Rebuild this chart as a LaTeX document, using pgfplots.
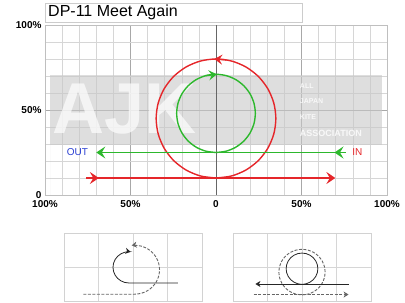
\documentclass[border=0pt]{standalone}
\usepackage{pgfplots}
\pgfplotsset{compat=1.18}
\usepackage{fontspec}
\setmainfont{Liberation Sans}
\usetikzlibrary{arrows.meta}
\definecolor{kred}{HTML}{E5262A}
\definecolor{kgreen}{HTML}{2DB82D}
\definecolor{kblue}{HTML}{2A3FD1}
\definecolor{gridminor}{HTML}{D6D6D6}
\definecolor{gridmajor}{HTML}{A8A8A8}
\definecolor{wm}{HTML}{C8C8C8}
\begin{document}
\begin{tikzpicture}
\useasboundingbox (0,0) rectangle (405pt,303pt);
% title box
\draw[gray!40] (45pt,281pt) rectangle (302pt,300pt);
\node[anchor=west, font=\fontsize{16}{16}\selectfont, inner sep=0pt] at (48pt,290.5pt) {DP-11 Meet Again};

\begin{axis}[
  at={(45pt,108pt)}, anchor=south west, scale only axis,
  width=342pt, height=170pt,
  xmin=-100, xmax=100, ymin=0, ymax=100,
  xtick={-100,-50,0,50,100}, xticklabels={100\%,50\%,0,50\%,100\%},
  ytick={0,50,100}, yticklabels={0,50\%,100\%},
  minor xtick={-90,-80,...,90}, minor ytick={10,20,...,90},
  grid=both,
  major grid style={draw=gridmajor, line width=0.5pt},
  minor grid style={draw=gridminor, line width=0.5pt},
  axis line style={draw=gray!50},
  major tick length=0pt, minor tick length=0pt,
  tick label style={font=\bfseries\fontsize{10}{10}\selectfont},
  xticklabel style={yshift=-1.5pt},
  clip=false,
]
% watermark
\addplot[draw=none, fill=wm, fill opacity=0.6] coordinates {(-97,29.5) (97,29.5) (97,70.5) (-97,70.5)} \closedcycle;
\node[text=white, text opacity=0.7, font=\bfseries\fontsize{72}{72}\selectfont, anchor=west, inner sep=0pt, text depth=0pt] at (axis cs:-96,51) {AJK};
\node[text=white, text opacity=0.8, font=\bfseries\fontsize{7}{7}\selectfont, anchor=west, inner sep=0pt] at (axis cs:49,64) {ALL};
\node[text=white, text opacity=0.8, font=\bfseries\fontsize{7}{7}\selectfont, anchor=west, inner sep=0pt] at (axis cs:49,55) {JAPAN};
\node[text=white, text opacity=0.8, font=\bfseries\fontsize{7}{7}\selectfont, anchor=west, inner sep=0pt] at (axis cs:49,46) {KITE};
\node[text=white, text opacity=0.8, font=\bfseries\fontsize{9}{9}\selectfont, anchor=west, inner sep=0pt] at (axis cs:49,36) {ASSOCIATION};
% centre line
\addplot[gray!80!black, line width=0.5pt] coordinates {(0,0) (0,100)};
% red circle
\addplot[kred, line width=1.4pt, smooth] coordinates {
(0,10) (9.06,11.19) (17.5,14.69) (24.75,20.25) (30.31,27.5) (33.81,35.94) (35,45)
(33.81,54.06) (30.31,62.5) (24.75,69.75) (17.5,75.31) (9.06,78.81) (0,80)
(-9.06,78.81) (-17.5,75.31) (-24.75,69.75) (-30.31,62.5) (-33.81,54.06) (-35,45)
(-33.81,35.94) (-30.31,27.5) (-24.75,20.25) (-17.5,14.69) (-9.06,11.19) (0,10)};
% green circle
\addplot[kgreen, line width=1.4pt, smooth] coordinates {
(0,25) (-5.95,25.78) (-11.5,28.08) (-16.26,31.74) (-19.92,36.5) (-22.22,42.05) (-23,48)
(-22.22,53.95) (-19.92,59.5) (-16.26,64.26) (-11.5,67.92) (-5.95,70.22) (0,71)
(5.95,70.22) (11.5,67.92) (16.26,64.26) (19.92,59.5) (22.22,53.95) (23,48)
(22.22,42.05) (19.92,36.5) (16.26,31.74) (11.5,28.08) (5.95,25.78) (0,25)};
% circle arrows
\addplot[kred, line width=1.4pt, -{Stealth[length=8pt,width=10pt,inset=3pt]}] coordinates {(6,79.48) (-1,80)};
\addplot[kgreen, line width=1.4pt, -{Stealth[length=8pt,width=10pt,inset=3pt]}] coordinates {(-6,70.2) (0.5,71)};
% red straight line
\addplot[kred, line width=1.4pt, -{Stealth[length=9pt,width=12pt,inset=3.5pt]}] coordinates {(-75,10) (69.8,10)};
\addplot[kred, line width=1.4pt, -{Stealth[length=9pt,width=12pt,inset=3.5pt]}] coordinates {(-76,10) (-68.5,10)};
% green straight line
\addplot[kgreen, line width=1.4pt, -{Stealth[length=9pt,width=12pt,inset=3.5pt]}] coordinates {(75,25) (-70,25)};
\addplot[kgreen, line width=1.4pt, -{Stealth[length=9pt,width=12pt,inset=3.5pt]}] coordinates {(76,25) (69.3,25)};
% labels
\node[text=kblue, font=\fontsize{10}{10}\selectfont, inner sep=1pt] at (axis cs:-81,25) {OUT};
\node[text=kred, font=\fontsize{10}{10}\selectfont, anchor=west, inner sep=1pt] at (axis cs:79,25) {IN};
\end{axis}

% left small panel
\begin{axis}[
  at={(64pt,2pt)}, anchor=south west, scale only axis,
  width=138pt, height=68pt,
  xmin=-2, xmax=2, ymin=0, ymax=2,
  xtick={-1,0,1}, ytick={1}, xticklabels={}, yticklabels={},
  grid=major, major grid style={draw=gridminor, line width=0.5pt},
  axis line style={draw=gray!35, line width=0.8pt},
  major tick length=0pt, clip=false,
]
\addplot[black!60, line width=0.9pt, dash pattern=on 3pt off 1.5pt, smooth, -{Stealth[length=5pt,width=6pt,inset=1.5pt]}] coordinates {
(-1.44,0.2) (-0.7,0.2) (-0.2,0.2) (0.05,0.2) (0.236,0.225) (0.41,0.296) (0.559,0.411) (0.674,0.56) (0.745,0.734) (0.77,0.92)
(0.745,1.106) (0.674,1.28) (0.559,1.429) (0.41,1.544) (0.236,1.615) (0.05,1.64) (-0.038,1.635)};
\addplot[black!85, line width=0.8pt, smooth, -{Stealth[length=5pt,width=6pt,inset=1.5pt]}] coordinates {
(1.3,0.53) (0.6,0.53) (0.1,0.53) (-0.12,0.53) (-0.239,0.546) (-0.35,0.592) (-0.445,0.665) (-0.518,0.76) (-0.564,0.871) (-0.58,0.99)
(-0.564,1.109) (-0.518,1.22) (-0.445,1.315) (-0.35,1.388) (-0.239,1.434) (-0.12,1.45) (-0.072,1.447)};
\end{axis}

% right small panel
\begin{axis}[
  at={(233pt,2pt)}, anchor=south west, scale only axis,
  width=138pt, height=68pt,
  xmin=-2, xmax=2, ymin=0, ymax=2,
  xtick={-1,0,1}, ytick={1}, xticklabels={}, yticklabels={},
  grid=major, major grid style={draw=gridminor, line width=0.5pt},
  axis line style={draw=gray!35, line width=0.8pt},
  major tick length=0pt, clip=false,
]
\addplot[black!85, line width=0.8pt, smooth] coordinates {
(0,0.49) (0.119,0.506) (0.23,0.552) (0.325,0.625) (0.398,0.72) (0.444,0.831) (0.46,0.95)
(0.444,1.069) (0.398,1.18) (0.325,1.275) (0.23,1.348) (0.119,1.394) (0,1.41)
(-0.119,1.394) (-0.23,1.348) (-0.325,1.275) (-0.398,1.18) (-0.444,1.069) (-0.46,0.95)
(-0.444,0.831) (-0.398,0.72) (-0.325,0.625) (-0.23,0.552) (-0.119,0.506) (0,0.49)};
\addplot[black!60, line width=0.9pt, dash pattern=on 3pt off 1.5pt, smooth] coordinates {
(0,0.18) (0.173,0.203) (0.335,0.27) (0.474,0.376) (0.58,0.515) (0.647,0.677) (0.67,0.85)
(0.647,1.023) (0.58,1.185) (0.474,1.324) (0.335,1.43) (0.173,1.497) (0,1.52)
(-0.173,1.497) (-0.335,1.43) (-0.474,1.324) (-0.58,1.185) (-0.647,1.023) (-0.67,0.85)
(-0.647,0.677) (-0.58,0.515) (-0.474,0.376) (-0.335,0.27) (-0.173,0.203) (0,0.18)};
\addplot[black!85, line width=0.8pt, -{Stealth[length=5pt,width=6pt,inset=1.5pt]}] coordinates {(1.35,0.5) (-1.35,0.5)};
\addplot[black!60, line width=0.9pt, dash pattern=on 3pt off 1.5pt, -{Stealth[length=5pt,width=6pt,inset=1.5pt]}] coordinates {(-1.4,0.19) (1.35,0.19)};
\end{axis}
\end{tikzpicture}
\end{document}
